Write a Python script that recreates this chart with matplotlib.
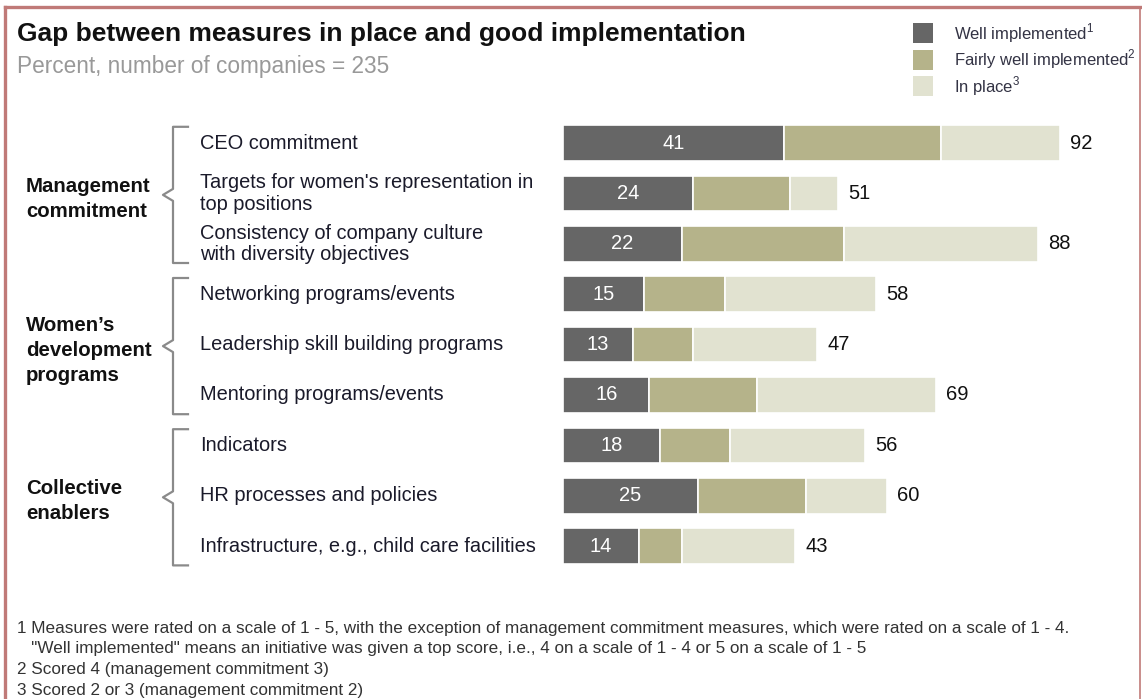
import matplotlib
matplotlib.use('Agg')
import matplotlib.pyplot as plt
import matplotlib.transforms as mtransforms
from matplotlib.lines import Line2D
from matplotlib.patches import Rectangle

plt.rcParams['font.family'] = ['Liberation Sans', 'DejaVu Sans']
plt.rcParams['mathtext.fontset'] = 'custom'
plt.rcParams['mathtext.rm'] = 'Liberation Sans'

# ---- data ----
measures = [
    'CEO commitment',
    "Targets for women's representation in\ntop positions",
    'Consistency of company culture\nwith diversity objectives',
    'Networking programs/events',
    'Leadership skill building programs',
    'Mentoring programs/events',
    'Indicators',
    'HR processes and policies',
    'Infrastructure, e.g., child care facilities',
]
well = [41, 24, 22, 15, 13, 16, 18, 25, 14]
fairly = [29, 18, 30, 15, 11, 20, 13, 20, 8]
in_place = [22, 9, 36, 28, 23, 33, 25, 15, 21]
totals = [92, 51, 88, 58, 47, 69, 56, 60, 43]

groups = ['Management\ncommitment', 'Women\u2019s\ndevelopment\nprograms', 'Collective\nenablers']
group_rows = [(0, 2), (3, 5), (6, 8)]

series_names = ['Well implemented', 'Fairly well implemented', 'In place']
series_notes = ['1', '2', '3']
COLORS = ['#666666', '#b5b38a', '#e1e2d0']

footnotes = [
    '1 Measures were rated on a scale of 1 - 5, with the exception of management commitment measures, which were rated on a scale of 1 - 4.',
    '   "Well implemented" means an initiative was given a top score, i.e., 4 on a scale of 1 - 4 or 5 on a scale of 1 - 5',
    '2 Scored 4 (management commitment 3)',
    '3 Scored 2 or 3 (management commitment 2)',
]

W, H = 1142, 699
fig = plt.figure(figsize=(W / 100, H / 100), dpi=100)


def fx(px):
    return px / W


def fy(py):
    return 1 - py / H


# ---- bar axes: 5.4 px per percent, rows ~50 px apart ----
ax_left, ax_right = 563, 1130
ax_top, ax_bot = 117.8, 571.4
ax = fig.add_axes([fx(ax_left), fy(ax_bot), (ax_right - ax_left) / W, (ax_bot - ax_top) / H])
ax.set_xlim(0, (ax_right - ax_left) / 5.4)
ax.set_ylim(len(measures) - 0.5, -0.5)
ax.axis('off')

ypos = list(range(len(measures)))
left = [0] * len(measures)
for vals, c in zip([well, fairly, in_place], COLORS):
    ax.barh(ypos, vals, left=left, height=0.71, color=c, edgecolor='white', linewidth=1.2)
    left = [l + v for l, v in zip(left, vals)]

for i in ypos:
    ax.text(well[i] / 2, i, str(well[i]), ha='center', va='center', color='white', fontsize=14.5)
    ax.text(left[i] + 1.9, i, str(totals[i]), ha='left', va='center', color='#111111', fontsize=14.5)

# ---- row labels, group labels and brackets ----
tr = mtransforms.blended_transform_factory(fig.transFigure, ax.transData)
for i, name in enumerate(measures):
    ax.text(fx(200), i, name, transform=tr, ha='left', va='center', fontsize=14.4,
            color='#1a1a2a', linespacing=1.15)

row_px = (ax_bot - ax_top) / len(measures)
for (g0, g1), gname in zip(group_rows, groups):
    top = g0 - 0.5 + 9 / row_px
    bot = g1 + 0.5 - 6 / row_px
    mid = (top + bot) / 2
    n = 6 / row_px
    xs = [fx(188), fx(173), fx(173), fx(163), fx(173), fx(173), fx(188)]
    ys = [top, top, mid - n, mid, mid + n, bot, bot]
    ax.add_line(Line2D(xs, ys, transform=tr, color='#8a8a8a', lw=1.6, clip_on=False))
    ax.text(fx(26), mid + 4 / row_px, gname, transform=tr, ha='left', va='center', fontsize=14.7,
            fontweight='bold', color='#111111', linespacing=1.4)

# ---- title ----
fig.text(fx(17), fy(34), 'Gap between measures in place and good implementation',
         ha='left', va='center', fontsize=19, fontweight='bold', color='#111111')
fig.text(fx(17), fy(67), 'Percent, number of companies = 235',
         ha='left', va='center', fontsize=16.3, color='#999999')

# ---- legend ----
for k, (name, note, c) in enumerate(zip(series_names, series_notes, COLORS)):
    yc = 33 + 26.5 * k
    fig.add_artist(Rectangle((fx(913), fy(yc + 10)), 20 / W, 20 / H, transform=fig.transFigure,
                             facecolor=c, edgecolor='none'))
    fig.text(fx(954), fy(yc), name + '$^{' + note + '}$', ha='left', va='center',
             fontsize=12, color='#333344')

# ---- footnotes ----
for k, line in enumerate(footnotes):
    fig.text(fx(17), fy(628 + 20.7 * k), line, ha='left', va='center', fontsize=12.3,
             color='#333333')

# ---- frame (runs off the bottom edge) ----
frame = '#c07a78'
for xs, ys in [([5, 5], [720, 7]), ([5, 1139.5], [7, 7]), ([1139.5, 1139.5], [7, 720])]:
    fig.add_artist(Line2D([fx(x) for x in xs], [fy(y) for y in ys], transform=fig.transFigure,
                          color=frame, lw=2.4 if xs[0] == 5 or ys[0] == ys[1] else 1.2))

fig.savefig('out.png', dpi=100)
